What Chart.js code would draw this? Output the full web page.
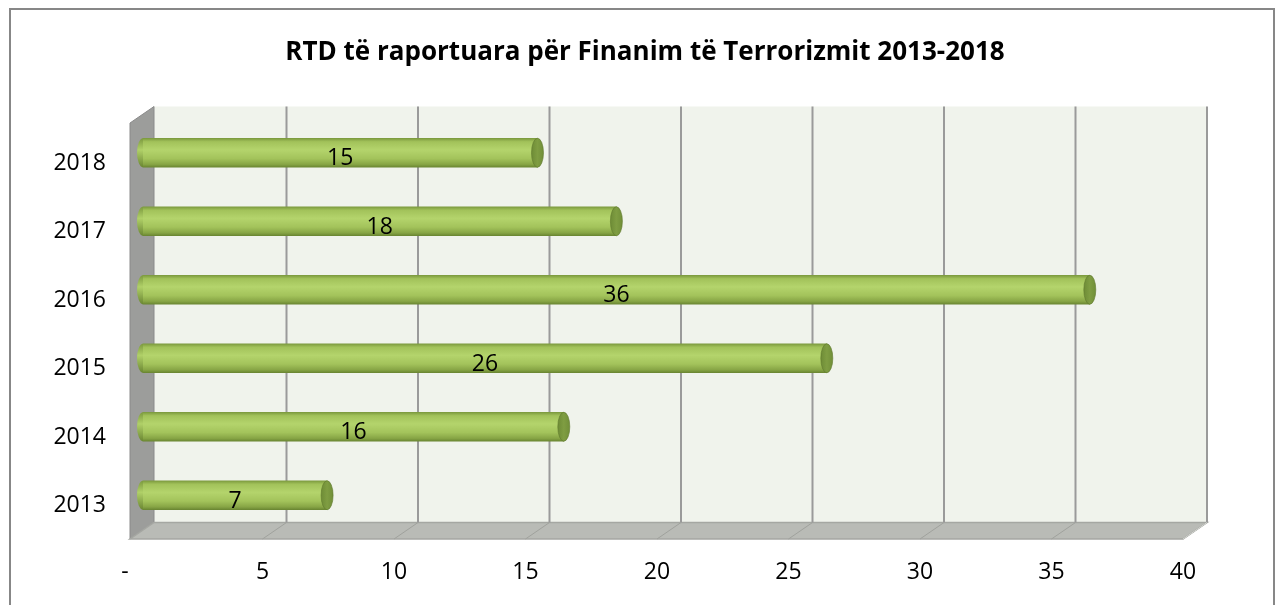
<!DOCTYPE html>
<html>
<head>
<meta charset="utf-8">
<script src="https://cdn.jsdelivr.net/npm/chart.js@4/dist/chart.umd.min.js"></script>
<style>
  html, body { margin: 0; padding: 0; background: #ffffff; }
  #wrap { width: 1283px; height: 605px; position: relative; }
</style>
</head>
<body>
<div id="wrap"><canvas id="c" width="1283" height="605"></canvas></div>
<script>
const titleText = 'RTD të raportuara për Finanim të Terrorizmit 2013-2018';
const years = ['2018', '2017', '2016', '2015', '2014', '2013'];
const values = [15, 18, 36, 26, 16, 7];
const xMin = 0;
const xMax = 40;
const xStep = 5;

const FONT = "'Open Sans', 'Noto Sans', 'DejaVu Sans', sans-serif";
const BAR_DX = 12, BAR_DY = -10.5;
const BACK_DX = 24, BACK_DY = -16.5;
const BAR_H = 29;

function barGradient(c) {
  const chart = c.chart;
  const ys = chart.scales && chart.scales.y;
  if (!chart.chartArea || !ys || c.dataIndex === undefined) return '#a6c65e';
  const y = ys.getPixelForValue(c.dataIndex);
  const g = chart.ctx.createLinearGradient(0, y - BAR_H / 2, 0, y + BAR_H / 2);
  g.addColorStop(0, '#7c9a3e');
  g.addColorStop(0.12, '#a2c25a');
  g.addColorStop(0.4, '#b4d46c');
  g.addColorStop(0.7, '#a3c35b');
  g.addColorStop(0.9, '#87a545');
  g.addColorStop(1, '#6a8632');
  return g;
}

const scenePlugin = {
  id: 'scene3d',
  beforeDraw(chart) {
    const ctx = chart.ctx;
    ctx.save();
    ctx.fillStyle = '#ffffff';
    ctx.fillRect(0, 0, chart.width, chart.height);
    ctx.strokeStyle = '#878787';
    ctx.lineWidth = 2;
    ctx.strokeRect(10, 9, 1264, 640);
    ctx.restore();
  },
  beforeDatasetsDraw(chart) {
    const ctx = chart.ctx;
    const a = chart.chartArea;
    const xs = chart.scales.x;
    const fL = a.left - 1, fR = a.right, fT = a.top - 6, fB = a.bottom - 1;
    const bL = fL + BACK_DX, bR = fR + BACK_DX, bT = fT + BACK_DY, bB = fB + BACK_DY;
    ctx.save();
    ctx.fillStyle = '#f0f3ec';
    ctx.fillRect(bL, bT, bR - bL, bB - bT);
    ctx.fillStyle = '#9c9d9b';
    ctx.beginPath();
    ctx.moveTo(fL, fT); ctx.lineTo(bL, bT); ctx.lineTo(bL, bB); ctx.lineTo(fL, fB); ctx.closePath();
    ctx.fill();
    ctx.strokeStyle = '#8a8a8a'; ctx.lineWidth = 1; ctx.stroke();
    ctx.fillStyle = '#b9bbb6';
    ctx.beginPath();
    ctx.moveTo(fL, fB); ctx.lineTo(fR, fB); ctx.lineTo(bR, bB); ctx.lineTo(bL, bB); ctx.closePath();
    ctx.fill();
    ctx.strokeStyle = '#a5a7a2'; ctx.lineWidth = 1.5; ctx.stroke();
    const ticks = xs.ticks;
    for (let i = 0; i < ticks.length; i++) {
      const v = ticks[i].value;
      const fx = xs.getPixelForValue(v);
      const bx = fx + BACK_DX;
      if (v !== xMin) {
        ctx.strokeStyle = '#9a9a9a';
        ctx.lineWidth = 2;
        ctx.beginPath(); ctx.moveTo(bx, bT); ctx.lineTo(bx, bB); ctx.stroke();
        ctx.strokeStyle = '#a0a29d';
        ctx.lineWidth = 1;
        ctx.beginPath(); ctx.moveTo(bx, bB); ctx.lineTo(fx, fB); ctx.stroke();
      }
    }
    ctx.strokeStyle = '#d4d6d1'; ctx.lineWidth = 1;
    ctx.beginPath(); ctx.moveTo(fR, fB); ctx.lineTo(bR, bB); ctx.stroke();
    ctx.restore();
    ctx.save();
    ctx.translate(BAR_DX, BAR_DY);
  },
  afterDatasetsDraw(chart) {
    const ctx = chart.ctx;
    const meta = chart.getDatasetMeta(0);
    const ds = chart.data.datasets[0];
    meta.data.forEach((bar, i) => {
      const h = BAR_H / 2;
      const grad = ctx.createLinearGradient(0, bar.y - h, 0, bar.y + h);
      grad.addColorStop(0, '#7c9a3e');
      grad.addColorStop(0.4, '#b0d068');
      grad.addColorStop(1, '#6a8632');
      ctx.save();
      ctx.fillStyle = grad;
      ctx.beginPath();
      ctx.ellipse(bar.base, bar.y, 6, h, 0, Math.PI / 2, Math.PI * 1.5);
      ctx.closePath();
      ctx.fill();
      const cg = ctx.createLinearGradient(bar.x - 6, 0, bar.x + 6, 0);
      cg.addColorStop(0, '#6e8c36');
      cg.addColorStop(0.5, '#7f9d42');
      cg.addColorStop(1, '#718f38');
      ctx.fillStyle = cg;
      ctx.beginPath();
      ctx.ellipse(bar.x, bar.y, 6, h, 0, 0, Math.PI * 2);
      ctx.fill();
      ctx.strokeStyle = 'rgba(95,120,45,0.6)';
      ctx.lineWidth = 1;
      ctx.stroke();
      ctx.fillStyle = '#000000';
      ctx.font = '23px ' + FONT;
      ctx.textAlign = 'center';
      ctx.textBaseline = 'middle';
      ctx.fillText(String(ds.data[i]), (bar.base + bar.x) / 2, bar.y + 6);
      ctx.restore();
    });
    ctx.restore();
  }
};

const chart = new Chart(document.getElementById('c'), {
  type: 'bar',
  data: {
    labels: years,
    datasets: [{
      data: values,
      backgroundColor: barGradient,
      borderWidth: 0,
      barThickness: BAR_H,
      clip: false
    }]
  },
  options: {
    indexAxis: 'y',
    responsive: false,
    animation: false,
    devicePixelRatio: 1,
    layout: { padding: { top: 10, right: 0, bottom: 0, left: 7 } },
    plugins: {
      legend: { display: false },
      tooltip: { enabled: false },
      title: {
        display: true,
        text: titleText,
        color: '#000000',
        font: { family: FONT, size: 26, weight: 'bold' },
        padding: { top: 27, bottom: 60.8 }
      }
    },
    scales: {
      x: {
        type: 'linear',
        min: xMin,
        max: xMax,
        grid: { display: false, drawTicks: false },
        border: { display: false },
        ticks: {
          stepSize: xStep,
          padding: 19,
          color: '#000000',
          font: { family: FONT, size: 23 },
          callback: (v) => v === 0 ? '-  ' : String(v)
        },
        afterFit: (s) => { s.height = 65; }
      },
      y: {
        type: 'category',
        grid: { display: false, drawTicks: false },
        border: { display: false },
        ticks: {
          padding: 25,
          autoSkip: false,
          color: '#000000',
          font: { family: FONT, size: 23 }
        },
        afterFit: (s) => { s.width = 124; }
      },
      ySpace: {
        type: 'linear',
        axis: 'y',
        position: 'right',
        display: true,
        grid: { display: false, drawTicks: false },
        border: { display: false },
        ticks: { display: false },
        afterFit: (s) => { s.width = 100; }
      }
    }
  },
  plugins: [scenePlugin]
});
</script>
</body>
</html>
